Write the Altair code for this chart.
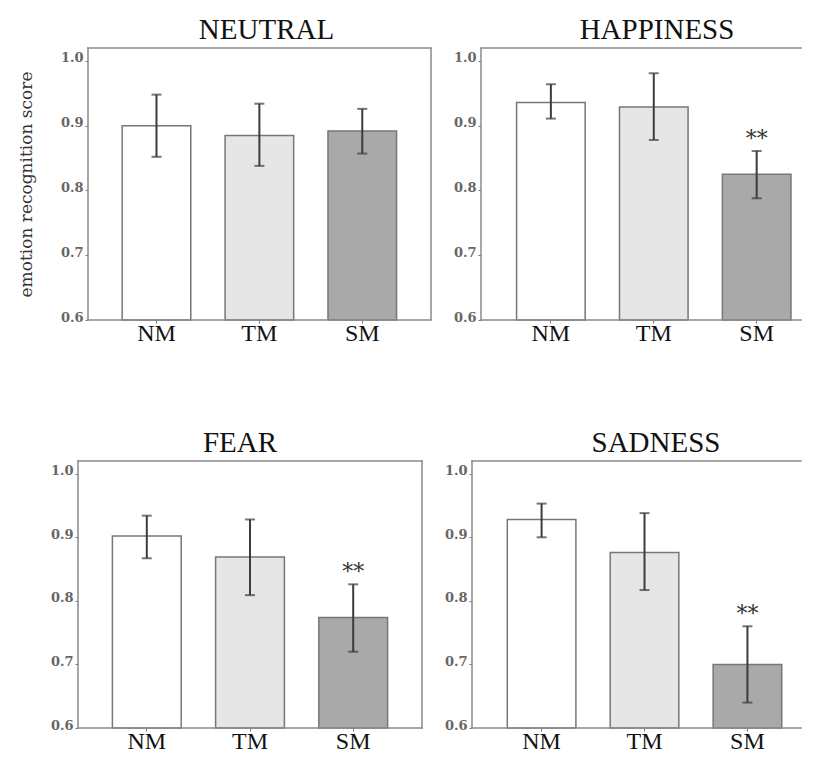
import altair as alt
import pandas as pd

groups = ["NM", "TM", "SM"]
bar_colors = ["#ffffff", "#e6e6e6", "#a9a9a9"]

neutral_mean = [0.900, 0.885, 0.892]
neutral_low = [0.852, 0.838, 0.857]
neutral_high = [0.948, 0.934, 0.926]
neutral_sig = ["", "", ""]

happiness_mean = [0.936, 0.929, 0.825]
happiness_low = [0.911, 0.878, 0.788]
happiness_high = [0.964, 0.981, 0.861]
happiness_sig = ["", "", "**"]

fear_mean = [0.902, 0.869, 0.774]
fear_low = [0.867, 0.809, 0.720]
fear_high = [0.934, 0.928, 0.826]
fear_sig = ["", "", "**"]

sadness_mean = [0.928, 0.876, 0.700]
sadness_low = [0.900, 0.817, 0.640]
sadness_high = [0.953, 0.938, 0.760]
sadness_sig = ["", "", "**"]

y_ticks = [0.6, 0.7, 0.8, 0.9, 1.0]
y_title = "emotion recognition score"

SERIF = "Liberation Serif"
WIDE_SERIF = "DejaVu Serif"
ERR = "#3c3c3c"
FRAME = "#8a8a8a"


def panel(name, mean, low, high, sig, dx, width, height, pad_outer, align,
          inset=0, show_title=False, title_pad=23, open_right=False):
    df = pd.DataFrame({"group": groups, "mean": mean, "low": low,
                       "high": high, "sig": sig})
    xscale = alt.Scale(domain=groups, paddingInner=1 / 3,
                       paddingOuter=pad_outer, align=align)
    yscale = alt.Scale(domain=[0.6, 1.02], zero=False, nice=False)
    xaxis = alt.Axis(title=None, labelAngle=0, domain=False, ticks=True,
                     tickSize=3, tickColor="#777777", labelPadding=-2,
                     labelFont=SERIF, labelFontSize=24, labelColor="#111111")
    yargs = dict(values=y_ticks, format=".1f", grid=False, domain=False,
                 ticks=True, tickSize=3, tickColor="#777777", offset=-inset,
                 labelPadding=2, labelFont=WIDE_SERIF, labelFontSize=13,
                 labelFontWeight="bold", labelColor="#666666",
                 labelBaseline="alphabetic", labelOffset=1)
    if show_title:
        yaxis = alt.Axis(title=y_title, titleFont=WIDE_SERIF,
                         titleFontSize=17, titleFontWeight="normal",
                         titleColor="#333333", titlePadding=title_pad, **yargs)
    else:
        yaxis = alt.Axis(title=None, **yargs)
    xe = alt.X("group:N", sort=groups, scale=xscale, axis=xaxis)

    def ye(field):
        return alt.Y(field, type="quantitative", scale=yscale, axis=yaxis)

    base = alt.Chart(df)
    bars = base.mark_bar(stroke="#777777", strokeWidth=1.5).encode(
        x=xe,
        y=ye("mean"),
        y2=alt.datum(0.6),
        fill=alt.Fill("group:N", scale=alt.Scale(domain=groups, range=bar_colors),
                      legend=None),
    )
    rules = base.mark_rule(color=ERR, strokeWidth=2).encode(
        x=xe, y=ye("low"), y2="high:Q")
    cap_lo = base.mark_tick(color=ERR, thickness=2, size=10).encode(
        x=xe, y=ye("low"))
    cap_hi = base.mark_tick(color=ERR, thickness=2, size=10).encode(
        x=xe, y=ye("high"))
    stars = base.mark_text(font=WIDE_SERIF, fontSize=22, color="#333333",
                           baseline="middle", dy=-12).encode(
        x=xe, y=ye("high"), text="sig:N")

    one = alt.Chart(df.head(1))
    fr = dict(color=FRAME, strokeWidth=1.5, strokeCap="square")
    frame = [
        one.mark_rule(**fr).encode(x=alt.value(inset), x2=alt.value(width),
                                   y=alt.value(0)),
        one.mark_rule(**fr).encode(x=alt.value(inset), x2=alt.value(width),
                                   y=alt.value(height)),
        one.mark_rule(**fr).encode(x=alt.value(inset), y=alt.value(0),
                                   y2=alt.value(height)),
    ]
    if not open_right:
        frame.append(one.mark_rule(**fr).encode(
            x=alt.value(width), y=alt.value(0), y2=alt.value(height)))

    return alt.layer(bars, rules, cap_lo, cap_hi, stars, *frame).properties(
        width=width, height=height,
        title=alt.TitleParams(name, font=SERIF, fontSize=29,
                              fontWeight="normal", color="#111111",
                              anchor="middle", frame="group", dx=dx,
                              offset=2),
    )


row1 = alt.hconcat(
    panel("NEUTRAL", neutral_mean, neutral_low, neutral_high, neutral_sig,
          12, 353, 272, 0.382, 0.562, inset=10, show_title=True,
          title_pad=25),
    panel("HAPPINESS", happiness_mean, happiness_low, happiness_high,
          happiness_sig, 16, 320, 272, 0.2216, 0.78, open_right=True),
    spacing=20,
)
row2 = alt.hconcat(
    panel("FEAR", fear_mean, fear_low, fear_high, fear_sig,
          -10, 344, 267, 1 / 3, 0.5),
    panel("SADNESS", sadness_mean, sadness_low, sadness_high, sadness_sig,
          19.5, 329, 267, 0.265, 0.647, open_right=True),
    spacing=20,
)

chart = alt.vconcat(row1, row2, spacing=83).properties(
    padding={"left": 9, "top": 7, "right": 0, "bottom": 0},
    background="white",
).configure_view(stroke=None)

chart.save("out.html", embed_options={"renderer": "svg", "actions": False})
